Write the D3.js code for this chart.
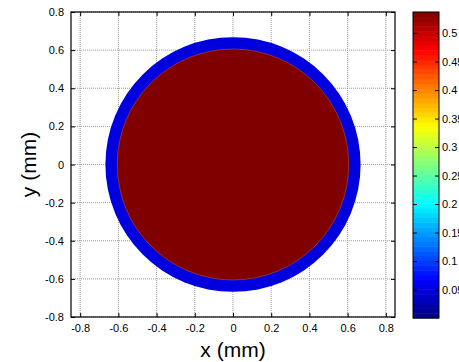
<!DOCTYPE html>
<html>
<head>
<meta charset="utf-8">
<script src="https://cdn.jsdelivr.net/npm/d3@7"></script>
<style>
  body { margin: 0; background: #fff; }
  svg { display: block; font-family: "Liberation Sans", Arial, sans-serif; }
  .grid line { stroke: #999; stroke-dasharray: 1,1; }
</style>
</head>
<body>
<div id="chart"></div>
<script>
// ticks and field values
var xTicks = [-0.8, -0.6, -0.4, -0.2, 0, 0.2, 0.4, 0.6, 0.8];
var yTicks = [-0.8, -0.6, -0.4, -0.2, 0, 0.2, 0.4, 0.6, 0.8];
var cbTicks = [0.05, 0.1, 0.15, 0.2, 0.25, 0.3, 0.35, 0.4, 0.45, 0.5];
var cbRange = [0, 0.537];
// regions of the field: radius (mm) and value, outermost first
var regionRadius = [0.668, 0.606];
var regionValue = [0.05, 0.537];

var W = 459, H = 362;
var plot = {left: 71, right: 395, top: 12, bottom: 317};
var cb = {left: 413, right: 439, top: 12, bottom: 318};

// jet colormap
var jetStops = [[0, 0, 0.5], [0, 0, 1], [0, 1, 1], [1, 1, 0], [1, 0, 0], [0.5, 0, 0]];
var jetPos = [0, 0.125, 0.375, 0.625, 0.875, 1];
var jetScale = d3.scaleLinear().domain(jetPos)
    .range(jetStops.map(function(c){ return d3.rgb(c[0]*255, c[1]*255, c[2]*255); }))
    .clamp(true);
var cval = d3.scaleLinear().domain(cbRange).range([0, 1]).clamp(true);
function color(v){ return jetScale(cval(v)); }

// plain number labels with an ascii minus, like matlab
var fmt = function(d){ return String(+d.toFixed(2)); };

var x = d3.scaleLinear().domain([-0.848, 0.848]).range([plot.left, plot.right]);
var y = d3.scaleLinear().domain([-0.8, 0.8]).range([plot.bottom, plot.top]);
var yc = d3.scaleLinear().domain(cbRange).range([cb.bottom, cb.top]);

var svg = d3.select("#chart").append("svg")
    .attr("width", W).attr("height", H);

// grid
var grid = svg.append("g").attr("class", "grid");
grid.selectAll(".gx").data(xTicks).enter().append("line")
    .attr("x1", function(d){ return x(d); }).attr("x2", function(d){ return x(d); })
    .attr("y1", plot.top).attr("y2", plot.bottom);
grid.selectAll(".gy").data(yTicks).enter().append("line")
    .attr("y1", function(d){ return y(d); }).attr("y2", function(d){ return y(d); })
    .attr("x1", plot.left).attr("x2", plot.right);

// field
var px = x(1) - x(0), py = y(0) - y(1);
svg.append("g").selectAll("ellipse").data(regionRadius).enter().append("ellipse")
    .attr("cx", x(0)).attr("cy", y(0))
    .attr("rx", function(d){ return d * px; })
    .attr("ry", function(d){ return d * py; })
    .attr("fill", function(d, i){ return color(regionValue[i]); })
    .attr("stroke", function(d, i){ return i > 0 ? "#ff6a00" : "none"; })
    .attr("stroke-width", 0.6)
    .attr("stroke-opacity", 0.7);

// axes (ticks inward on all sides)
var tl = 4;
svg.append("g").attr("transform", "translate(0," + plot.bottom + ")")
    .call(d3.axisBottom(x).tickValues(xTicks).tickSizeInner(-tl).tickSizeOuter(0).tickPadding(7)
          .tickFormat(fmt));
svg.append("g").attr("transform", "translate(0," + plot.top + ")")
    .call(d3.axisTop(x).tickValues(xTicks).tickSizeInner(-tl).tickSizeOuter(0).tickFormat(""));
svg.append("g").attr("transform", "translate(" + plot.left + ",0)")
    .call(d3.axisLeft(y).tickValues(yTicks).tickSizeInner(-tl).tickSizeOuter(0).tickPadding(7)
          .tickFormat(fmt));
svg.append("g").attr("transform", "translate(" + plot.right + ",0)")
    .call(d3.axisRight(y).tickValues(yTicks).tickSizeInner(-tl).tickSizeOuter(0).tickFormat(""));

svg.append("rect")
    .attr("x", plot.left).attr("y", plot.top)
    .attr("width", plot.right - plot.left).attr("height", plot.bottom - plot.top)
    .attr("fill", "none").attr("stroke", "#000").attr("stroke-width", 1.2);

// colorbar
var nBands = 64;
var bands = d3.range(nBands).map(function(i){
  return cbRange[0] + (cbRange[1] - cbRange[0]) * i / nBands;
});
var bandH = (cb.bottom - cb.top) / nBands;
svg.append("g").selectAll("rect").data(bands).enter().append("rect")
    .attr("x", cb.left).attr("width", cb.right - cb.left)
    .attr("y", function(d){ return yc(d) - bandH; })
    .attr("height", bandH + 0.5)
    .attr("fill", function(d){ return color(d + (cbRange[1] - cbRange[0]) / nBands / 2); });

svg.append("g").attr("transform", "translate(" + cb.right + ",0)")
    .call(d3.axisRight(yc).tickValues(cbTicks).tickSizeInner(-tl).tickSizeOuter(0).tickPadding(3)
          .tickFormat(fmt));
svg.append("g").attr("transform", "translate(" + cb.left + ",0)")
    .call(d3.axisLeft(yc).tickValues(cbTicks).tickSizeInner(-tl).tickSizeOuter(0).tickFormat(""));
svg.append("rect")
    .attr("x", cb.left).attr("y", cb.top)
    .attr("width", cb.right - cb.left).attr("height", cb.bottom - cb.top)
    .attr("fill", "none").attr("stroke", "#000").attr("stroke-width", 1);

svg.selectAll(".domain").remove();
svg.selectAll(".tick text").attr("font-size", 11).attr("fill", "#000")
    .attr("font-family", "Liberation Sans, Arial, sans-serif");
svg.selectAll(".tick line").attr("stroke", "#000");

// axis labels
svg.append("text")
    .attr("x", x(0)).attr("y", 357)
    .attr("text-anchor", "middle").attr("font-size", 21)
    .text("x (mm)");
svg.append("text")
    .attr("transform", "translate(36," + y(0) + ") rotate(-90)")
    .attr("text-anchor", "middle").attr("font-size", 21)
    .text("y (mm)");
</script>
</body>
</html>
